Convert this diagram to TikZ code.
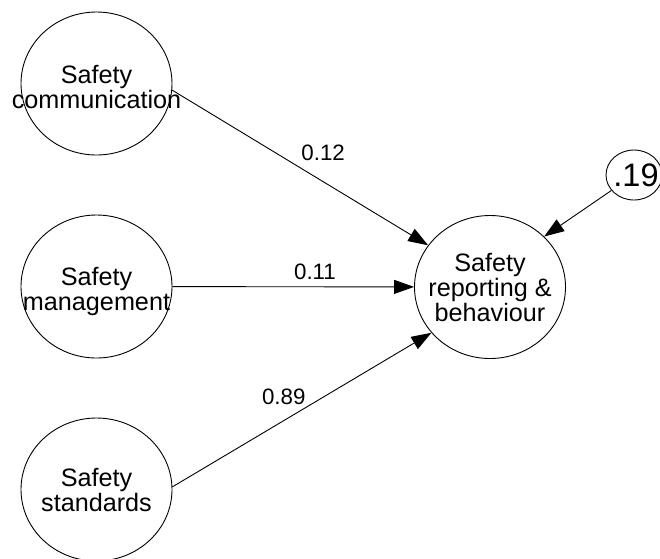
\documentclass[tikz,border=0pt]{standalone}
\usepackage{fontspec}
\setmainfont{Liberation Sans}
\usetikzlibrary{shapes.geometric,arrows.meta}
\begin{document}
\begin{tikzpicture}[x=1pt,y=-1pt,
  latent/.style={draw,ellipse,minimum width=151pt,minimum height=143pt,inner sep=0pt,line width=0.9pt},
  ltext/.style={align=center,inner sep=0pt,font=\fontsize{25.2}{25}\selectfont},
  errnode/.style={draw,ellipse,minimum width=56pt,minimum height=50pt,inner sep=0pt,line width=0.9pt},
  errtext/.style={inner sep=0pt,font=\fontsize{32.5}{34}\selectfont},
  arrowline/.style={line width=0.9pt,-{Triangle[length=20pt,width=14pt]}},
  coef/.style={inner sep=0pt,font=\fontsize{22.3}{24}\selectfont}]
\clip (0,0) rectangle (660,558);
\fill[white] (0,0) rectangle (660,558);
\node[latent,label={[ltext,yshift=-3pt]center:Safety\\communication}] (comm) at (96.5,83.5) {};
\node[latent,label={[ltext,yshift=-5pt]center:Safety\\management}] (mgmt) at (96.5,286.5) {};
\node[latent,label={[ltext]center:Safety\\standards}] (std) at (96.5,489.5) {};
\node[latent,label={[ltext]center:Safety\\reporting \&\\behaviour}] (sr) at (490,287) {};
\node[errnode,label={[errtext,xshift=2pt]center:.19}] (e) at (634,175) {};
\draw[arrowline] (comm.-5) -- node[coef,pos=0.59,yshift=29pt]{0.12} (sr.146);
\draw[arrowline] (mgmt) -- node[coef,pos=0.59,yshift=14.5pt]{0.11} (sr);
\draw[arrowline] (std.2) -- node[coef,pos=0.43,yshift=24pt]{0.89} (sr.-142);
\draw[arrowline] (e) -- (sr.43);
\end{tikzpicture}
\end{document}
